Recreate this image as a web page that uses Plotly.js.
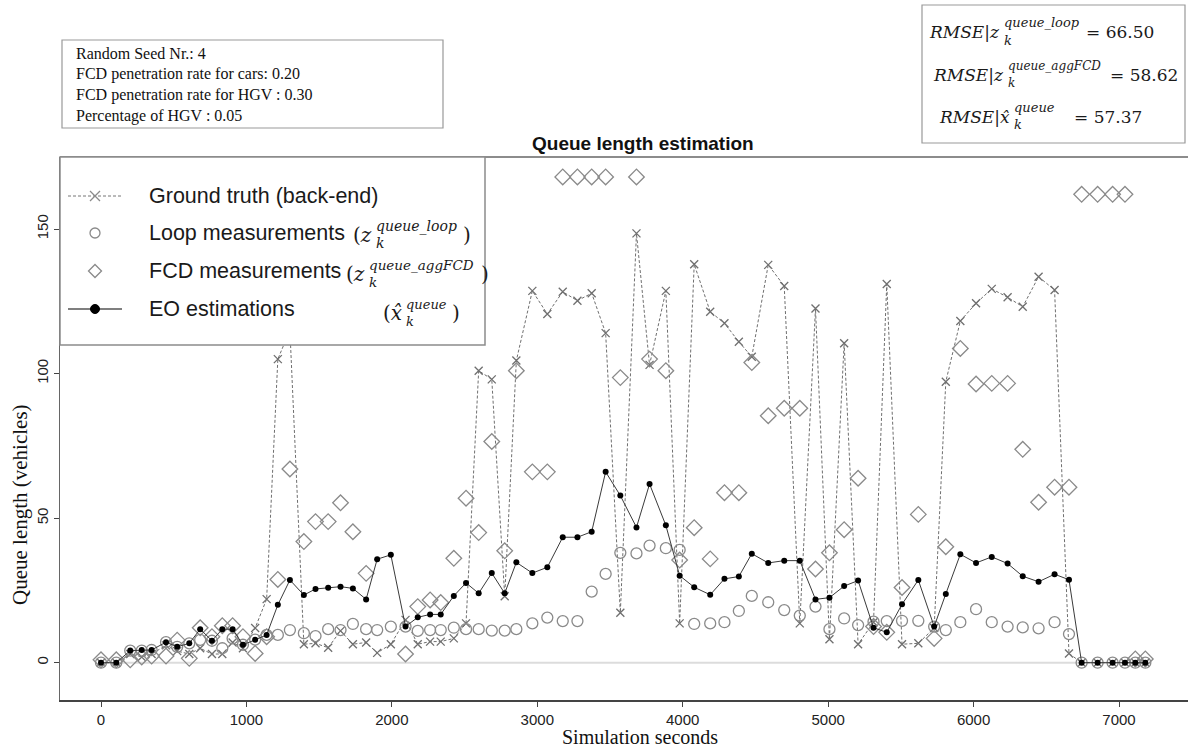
<!DOCTYPE html>
<html><head><meta charset="utf-8">
<script src="https://cdn.plot.ly/plotly-3.0.1.min.js"></script>
<style>html,body{margin:0;padding:0;background:#fff}#chart{width:1188px;height:747px}</style>
</head><body><div id="chart"></div>
<script>
// ---------- data ----------
const simSeconds = [0,105,201,280,348,447,524,607,682,763,834,905,976,1060,1139,1216,1299,1395,1475,1562,1647,1732,1823,1899,1993,2094,2178,2263,2336,2426,2510,2597,2687,2776,2856,2966,3069,3175,3276,3374,3470,3571,3682,3772,3884,3979,4079,4189,4287,4386,4475,4588,4698,4805,4913,5009,5110,5206,5312,5403,5508,5620,5729,5809,5909,6017,6125,6234,6338,6447,6557,6656,6743,6853,6956,7041,7112,7181];
const groundTruth = [0,0,3,2,3,6,4,3,5,3,3,7,5,12,22,105,115,6.4,6.7,5.2,11,6.4,7,3.4,6.4,14.8,6.4,7.3,7.3,8.4,13.6,101,98,23,104.5,128.6,120.6,128.3,125.2,127.8,114,17.3,148.5,103,128.6,13.6,137.8,121.4,117.4,111,105.8,137.6,130.3,13.6,122.5,8.1,110.5,6.4,14,131,6.4,6.7,12,97.2,118.2,124.3,129.3,126.4,123.1,133.5,128.9,3.2,0,0,0,0,0,0];
const loopMeas = [0,0,4.2,4.2,4.4,7.1,5.5,6.7,7.9,7.6,5,8.4,6.2,8,9.6,9.6,11.3,10.2,9.2,11.6,11.3,13.4,11.6,11.3,12.5,12.5,11,11.3,11.3,12.1,11.6,11.6,11.1,11.1,11.6,13.6,15.6,14.4,14.4,24.6,30.7,38,37.8,40.5,39.6,39,13.4,13.6,14,17.9,23.1,20.9,18.2,16.3,19.4,11.6,15.3,13,14.2,14.4,14.5,14.5,12.5,11.3,14,18.5,14,12.5,12.2,11.9,14,9.9,0,0,0,0,0,0];
const fcdMeas = [1,1,1,2,2.3,2.3,7.8,1.5,12.1,9,12.8,12.8,9,3.2,9,28.8,67,41.9,48.8,48.8,55.3,45.3,30.9,null,null,3,19.4,21.7,20.8,36.1,56.9,45,76.5,38.7,101,66,66,168,168,168,168,98.6,168,105,101,35.5,46.7,35.9,58.8,58.8,103.8,85.4,88,88,32.4,38,46,63.8,12.5,10.5,26,51.3,8.4,40.1,108.7,96.4,96.6,96.6,73.8,55.5,60.7,60.7,162,162,162,162,1.3,1.3];
const eoEstim = [0,0,4.2,4.4,4.4,7.1,5.5,6.7,11.6,7.6,11.6,11.6,6.2,7.9,9.6,20,28.6,23.4,25.5,25.9,26.3,25.7,21.9,35.8,37.3,12.5,15.7,16.7,16.7,23.1,27.6,24,31,24,34.7,31,33,43.4,43.4,45.3,66,57.8,46.8,61.8,47.5,30.1,26.1,23.5,29,29.8,37.7,34.5,35.3,35.3,21.9,22.5,26.5,28.4,12.1,10.5,20.2,28.6,12.5,23.8,37.5,34.5,36.6,34.3,29.9,28,30.6,28.7,0,0,0,0,0,0];
const xTicks = [0,1000,2000,3000,4000,5000,6000,7000];
const yTicks = [0,50,100,150];
const legendNames = ["Ground truth (back-end)","Loop measurements","FCD measurements","EO estimations"];
const infoLines = ["Random Seed Nr.: 4","FCD penetration rate for cars: 0.20","FCD penetration rate for HGV : 0.30","Percentage of HGV : 0.05"];
const rmseValues = ["66.50","58.62","57.37"];

// ---------- geometry helpers ----------
const L=60, R=0, T=157, B=47, PW=1188-L-R, PH=747-T-B;
const px = p => (p-L)/PW;
const py = p => (747-B-p)/PH;
const SERIF = "Liberation Serif, Times New Roman, serif";
const MATH = "DejaVu Serif, serif";
const SANS = "Liberation Sans, Arial, sans-serif";

const grey='#8a8a8a';
const traces = [
 {x:simSeconds,y:groundTruth,mode:'lines+markers',line:{color:'#6f6f6f',width:1,dash:'3px,2px'},
  marker:{symbol:'x-thin-open',size:8,line:{color:grey,width:1.3}},name:legendNames[0]},
 {x:simSeconds,y:loopMeas,mode:'markers',marker:{symbol:'circle-open',size:11,color:grey,line:{width:1.3,color:grey}},name:legendNames[1]},
 {x:simSeconds,y:fcdMeas,mode:'markers',marker:{symbol:'diamond-open',size:12,color:grey,line:{width:1.3,color:grey}},name:legendNames[2]},
 {x:simSeconds,y:eoEstim,mode:'lines+markers',line:{color:'#3a3a3a',width:1},marker:{symbol:'circle',size:6,color:'#000'},name:legendNames[3]}
];

const shapes = [];
const ann = [];
shapes.push({type:'line',xref:'x',yref:'y',x0:0,x1:7200,y0:0,y1:0,line:{color:'#dcdcdc',width:2},layer:'below'});
shapes.push({type:'line',xref:'paper',yref:'paper',x0:0,x1:1,y0:1,y1:1,line:{color:'#8c8c8c',width:2}});
shapes.push({type:'rect',xref:'paper',yref:'paper',x0:px(60),x1:px(485),y0:py(345),y1:py(157),fillcolor:'#fff',line:{color:'#8c8c8c',width:1.5},layer:'above'});
const rows=[196,233,271,309];
shapes.push({type:'line',xref:'paper',yref:'paper',x0:px(68),x1:px(122),y0:py(rows[0]),y1:py(rows[0]),line:{color:'#777',width:1,dash:'3px,2px'},layer:'above'});
shapes.push({type:'path',xref:'paper',yref:'paper',path:`M${px(90)},${py(rows[0]-5)} L${px(100)},${py(rows[0]+5)} M${px(90)},${py(rows[0]+5)} L${px(100)},${py(rows[0]-5)}`,line:{color:grey,width:1.3},layer:'above'});
shapes.push({type:'circle',xref:'paper',yref:'paper',x0:px(90),x1:px(100),y0:py(rows[1]+5),y1:py(rows[1]-5),line:{color:grey,width:1.3},layer:'above'});
shapes.push({type:'path',xref:'paper',yref:'paper',path:`M${px(95)},${py(rows[2]-6.5)} L${px(101.5)},${py(rows[2])} L${px(95)},${py(rows[2]+6.5)} L${px(88.5)},${py(rows[2])} Z`,line:{color:grey,width:1.3},layer:'above'});
shapes.push({type:'line',xref:'paper',yref:'paper',x0:px(68),x1:px(122),y0:py(rows[3]),y1:py(rows[3]),line:{color:'#000',width:1.2},layer:'above'});
shapes.push({type:'circle',xref:'paper',yref:'paper',x0:px(90.5),x1:px(99.5),y0:py(rows[3]+4.5),y1:py(rows[3]-4.5),fillcolor:'#000',line:{color:'#000',width:1},layer:'above'});
shapes.push({type:'rect',xref:'paper',yref:'paper',x0:px(62),x1:px(443),y0:py(128),y1:py(40),line:{color:'#999',width:1.2},fillcolor:'rgba(0,0,0,0)'});
shapes.push({type:'rect',xref:'paper',yref:'paper',x0:px(922),x1:px(1185),y0:py(143),y1:py(5),line:{color:'#999',width:1.2},fillcolor:'rgba(0,0,0,0)'});

function A(text,x,y,opt){ann.push(Object.assign({text:text,xref:'paper',yref:'paper',x:px(x),y:py(y),showarrow:false,xanchor:'left',yanchor:'middle',font:{family:SANS,size:22,color:'#1a1a1a'}},opt||{}));}

legendNames.forEach((n,i)=>A(n,147,rows[i],{font:{family:SANS,size:21.5,color:'#1a1a1a'}}));
function mathPiece(base,xb,sup,sub,xt,y,bs,ss){
  A(base,xb,y,{xanchor:'right',font:{family:MATH,size:bs,color:'#1a1a1a'}});
  A('<i>'+sup+'</i>',xb,y-9,{font:{family:MATH,size:ss,color:'#1a1a1a'}});
  A('<i>'+sub+'</i>',xb,y+8,{font:{family:MATH,size:ss,color:'#1a1a1a'}});
  A(xt.text,xt.x,y,{font:{family:xt.family||MATH,size:xt.size||bs,color:'#1a1a1a'}});
}
mathPiece('(<i>z</i>',374,'queue_loop','k',{text:')',x:461},rows[1]+2,20,14);
mathPiece('(<i>z</i>',367,'queue_aggFCD','k',{text:')',x:479},rows[2]+3,20,13.5);
mathPiece('(<i>x̂</i>',404,'queue','k',{text:')',x:450},rows[3]+4,20,13);

mathPiece('<i>RMSE</i>|<i>z</i>',1002,'queue_loop','k',{text:'= '+rmseValues[0],x:1084,size:17},32,17,13);
mathPiece('<i>RMSE</i>|<i>z</i>',1006,'queue_aggFCD','k',{text:'= '+rmseValues[1],x:1108,size:17},75,17,12);
mathPiece('<i>RMSE</i>|<i>x̂</i>',1012,'queue','k',{text:'= '+rmseValues[2],x:1072,size:17},117,17,13);

const infoY=[53,74,95,116];
infoLines.forEach((t,i)=>A(t,74,infoY[i],{font:{family:SERIF,size:16,color:'#111'}}));

A('<b>Queue length estimation</b>',643,143,{xanchor:'center',font:{family:SANS,size:19,color:'#111'}});
A('Queue length (vehicles)',20,505,{xanchor:'center',textangle:-90,font:{family:SERIF,size:21,color:'#111'}});
A('Simulation seconds',640,737,{xanchor:'center',font:{family:SERIF,size:20,color:'#111'}});

const layout = {
  width:1188,height:747,margin:{l:L,r:R,t:T,b:B},paper_bgcolor:'#fff',plot_bgcolor:'#fff',
  showlegend:false,hovermode:false,
  xaxis:{range:[(60-101)/0.145429,(1188-101)/0.145429],tickvals:xTicks,ticktext:xTicks.map(String),ticks:'outside',ticklen:5,tickcolor:'#444',
         showline:true,linecolor:'#444',linewidth:1.5,showgrid:false,zeroline:false,tickfont:{family:SANS,size:15,color:'#222'}},
  yaxis:{range:[(662.7-700)/2.8913,(662.7-157)/2.8913],tickvals:yTicks,ticktext:yTicks.map(String),ticks:'outside',ticklen:5,tickcolor:'#444',tickangle:-90,
         showline:true,linecolor:'#666',linewidth:1.5,showgrid:false,zeroline:false,tickfont:{family:SANS,size:15,color:'#222'}},
  shapes:shapes,annotations:ann
};
Plotly.newPlot('chart',traces,layout,{displayModeBar:false,staticPlot:true});
</script></body></html>
